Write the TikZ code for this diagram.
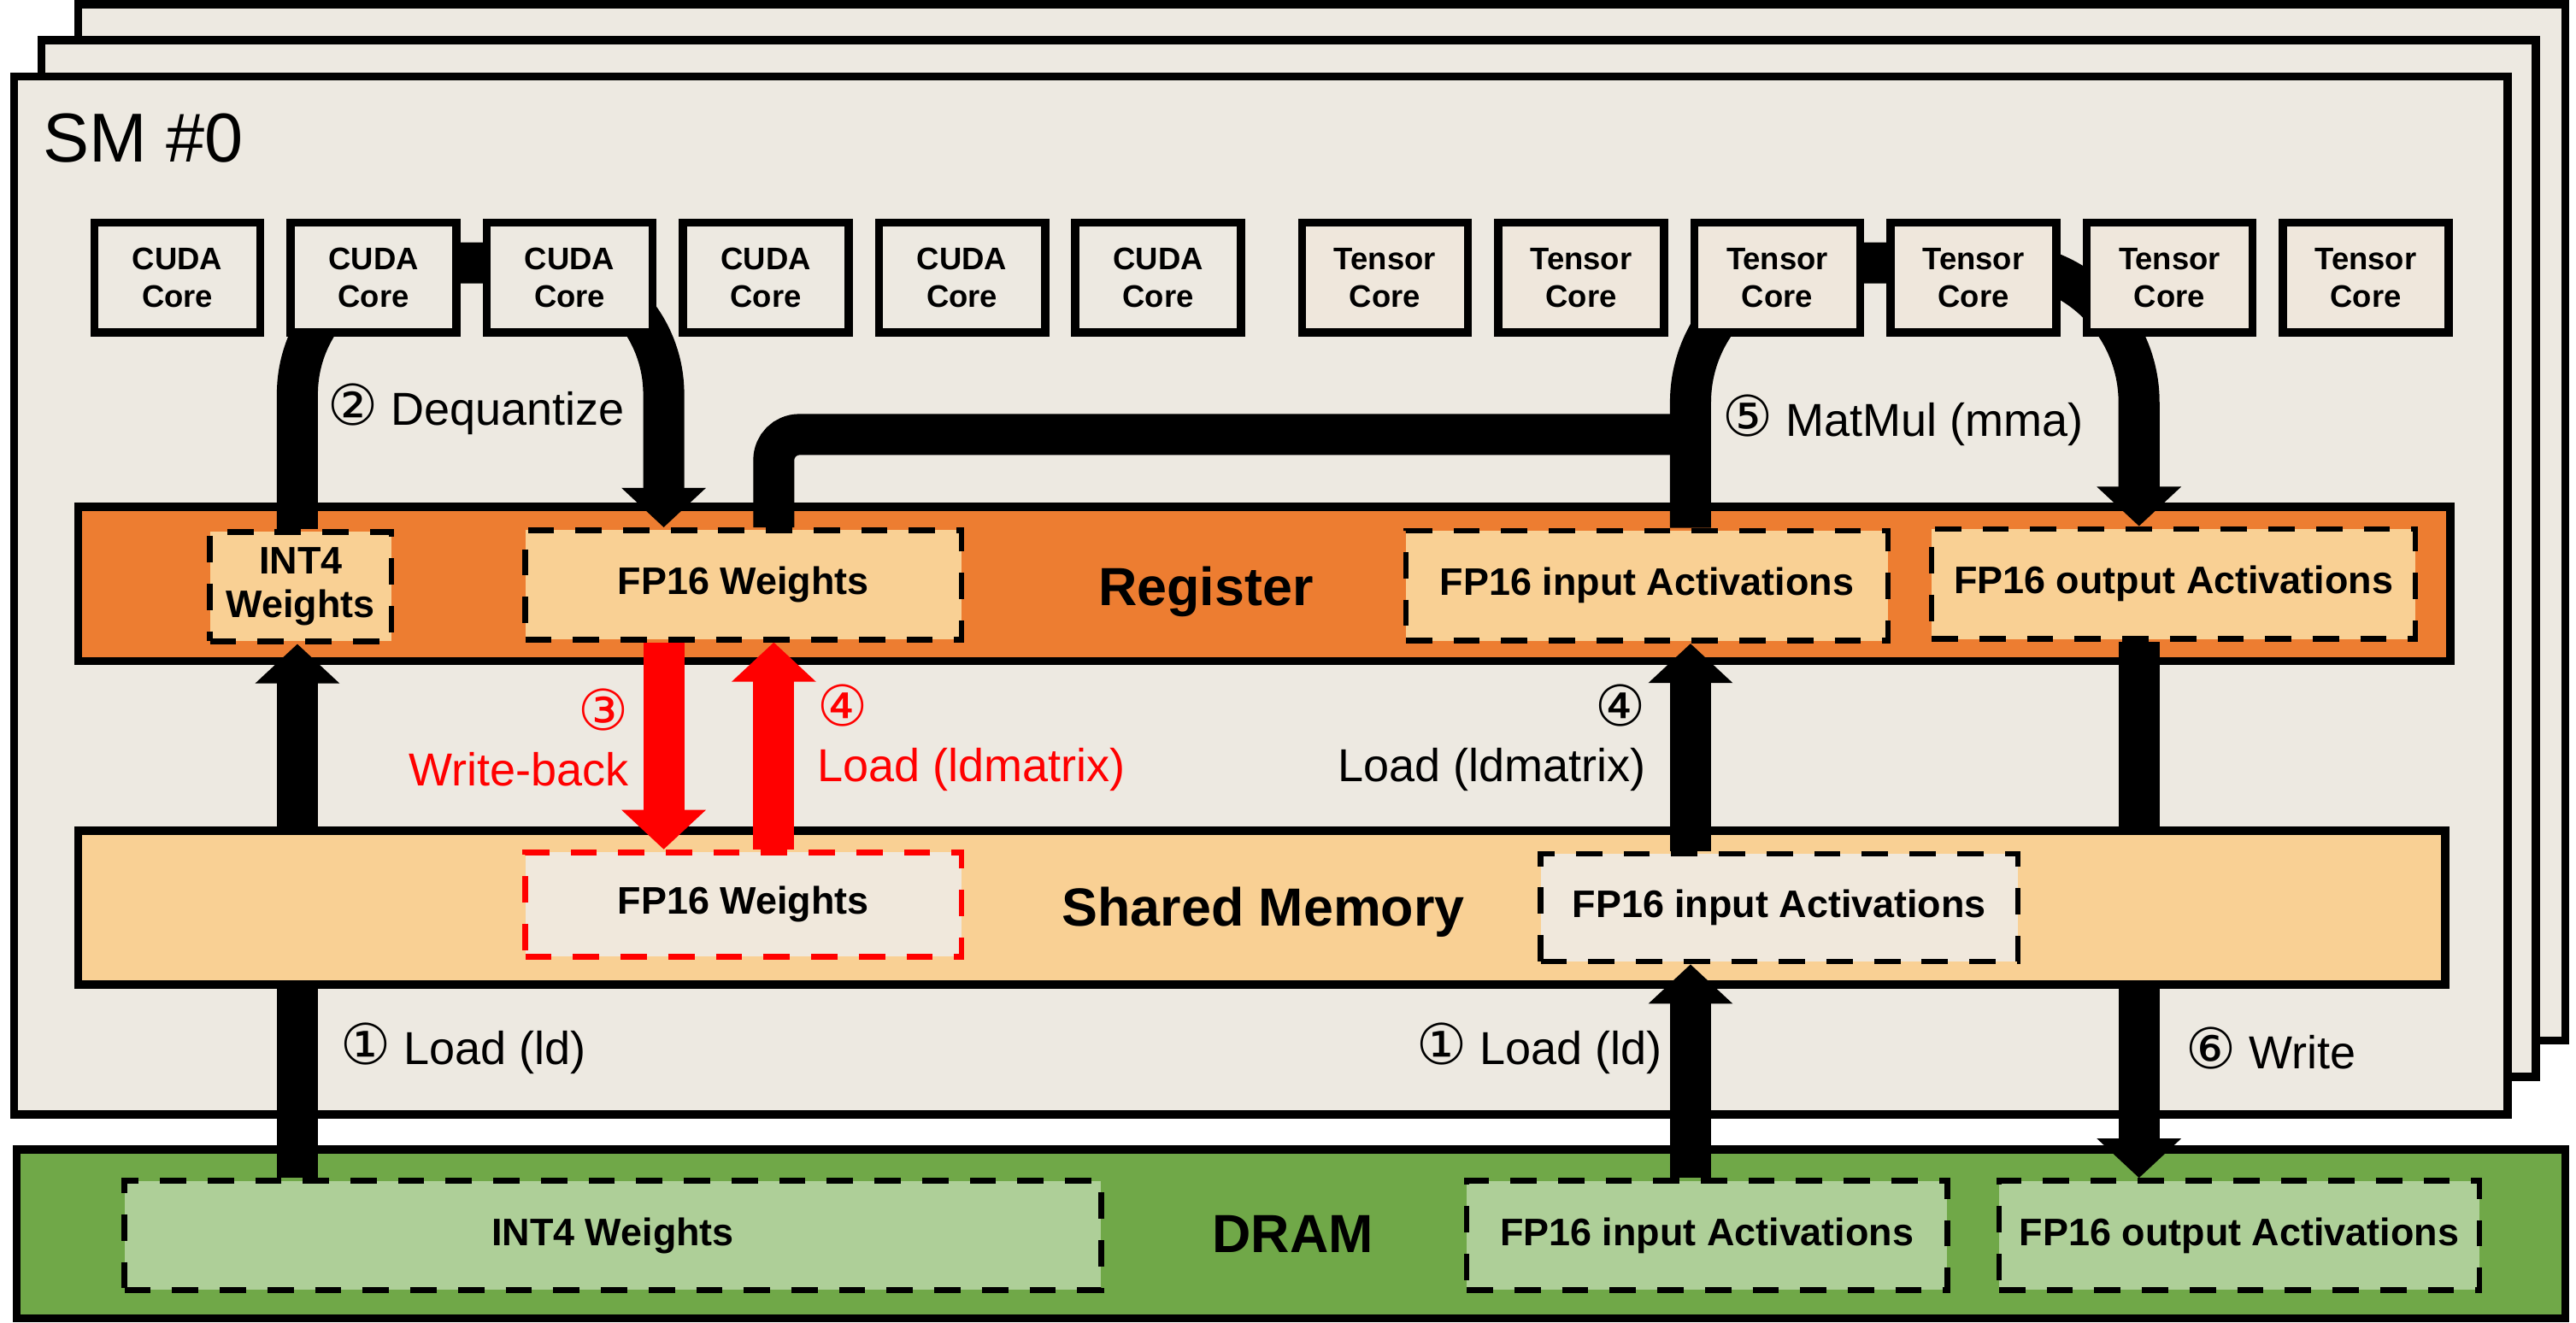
\documentclass[tikz,border=0pt]{standalone}
\usepackage{fontspec}
\setmainfont{Liberation Sans}
\newfontfamily\circfont{DejaVu Sans}
\usepackage{xcolor}
\usepackage{tikz}
\usetikzlibrary{positioning}
\usetikzlibrary{arrows.meta}
\usetikzlibrary{calc}

\definecolor{smbg}{RGB}{237,233,225}
\definecolor{tcbg}{RGB}{239,231,220}
\definecolor{regorange}{RGB}{237,125,49}
\definecolor{peach}{RGB}{249,208,148}
\definecolor{shslot}{RGB}{240,232,220}
\definecolor{dramgreen}{RGB}{112,168,72}
\definecolor{dramslot}{RGB}{174,207,152}

\newcommand{\circnum}[1]{{\circfont\fontsize{19.5}{19.2}\selectfont #1}}

\tikzset{
  smframe/.style={draw, line width=0.1cm, fill=smbg},
  corebox/.style={draw, line width=0.1cm, fill=smbg, minimum width=2.02cm, minimum height=1.34cm, inner sep=0pt, align=center, font=\fontsize{10.8}{13}\selectfont\bfseries},
  tensorbox/.style={corebox, fill=tcbg},
  slot/.style={draw, line width=0.07cm, dash pattern=on 0.32cm off 0.26cm, align=center, inner sep=0pt, font=\fontsize{13.3}{15.2}\selectfont\bfseries},
  memname/.style={inner sep=0pt, font=\fontsize{18.6}{22}\selectfont\bfseries},
  bigarrow/.style={line width=0.5cm, -{Triangle[width=1cm,length=0.48cm]}},
  steptext/.style={inner sep=0pt, font=\fontsize{16}{19.2}\selectfont, align=left},
}

\begin{document}
\begin{tikzpicture}[x=0.02cm, y=-0.02cm]
    \useasboundingbox (0,0) rectangle (1568,805);

    % stacked SM frames
    \draw[smframe] (47.6,2.6) rectangle (1561.4,633.4);
    \draw[smframe] (25.2,24.6) rectangle (1543.4,655.4);
    \draw[smframe] (8.6,46.6) rectangle (1526.4,678.4);
    \node[anchor=west, inner sep=0pt, font=\fontsize{24}{28}\selectfont] (smName) at (26,84) {SM \#0};

    % lanes for the thick connectors
    \coordinate (laneW) at (181,0);
    \coordinate (laneDq) at (404,0);
    \coordinate (laneLd) at (471,0);
    \coordinate (laneAct) at (1029,0);
    \coordinate (laneOut) at (1302,0);
    \coordinate (busY) at (0,160);
    \coordinate (mmY) at (0,264.5);

    % Register
    \draw[line width=0.1cm, fill=regorange] (47.6,308.6) rectangle (1491.4,402.4);
    \node[slot, fill=peach, minimum width=2.21cm, minimum height=1.33cm] (regInt4) at (183,357) {INT4\\Weights};
    \node[slot, fill=peach, minimum width=5.31cm, minimum height=1.33cm] (regFpW) at (452.5,356) {FP16 Weights};
    \node[slot, fill=peach, minimum width=5.87cm, minimum height=1.34cm] (regInAct) at (1002.5,356.5) {FP16 input Activations};
    \node[slot, fill=peach, minimum width=5.89cm, minimum height=1.34cm] (regOutAct) at (1323,355.5) {FP16 output Activations};
    \node[memname] (regName) at (734,360) {Register};

    % DRAM
    \draw[line width=0.1cm, fill=dramgreen] (10.1,699.6) rectangle (1561.4,802.4);
    \node[slot, fill=dramslot, minimum width=11.89cm, minimum height=1.33cm] (drInt4) at (373,752) {INT4 Weights};
    \node[slot, fill=dramslot, minimum width=5.85cm, minimum height=1.33cm] (drInAct) at (1039,752) {FP16 input Activations};
    \node[slot, fill=dramslot, minimum width=5.85cm, minimum height=1.33cm] (drOutAct) at (1363,752) {FP16 output Activations};
    \node[memname] (dramName) at (787,751) {DRAM};

    % paths running behind shared memory
    \draw[bigarrow] (drInt4.north -| laneW) -- (regInt4.south -| laneW);
    \draw[bigarrow] (regOutAct.south -| laneOut) -- (drOutAct.north -| laneOut);

    % dequantize and mma paths (behind the cores)
    \draw[bigarrow, rounded corners=1.6cm] (regInt4.north -| laneW) |- (busY -| laneDq) -- (regFpW.north -| laneDq);
    \draw[bigarrow, rounded corners=1.7cm] (regInAct.north -| laneAct) |- (busY -| laneOut) -- (regOutAct.north -| laneOut);
    \draw[line width=0.5cm, rounded corners=0.31cm] (regFpW.north -| laneLd) |- (mmY -| laneAct);

    % cores
    \foreach \i in {1,...,6}
        \node[corebox] (cuda\i) at ({108+119.4*(\i-1)},169) {CUDA\\Core};
    \foreach \i in {1,...,6}
        \node[tensorbox] (tc\i) at ({843+119.4*(\i-1)},169) {Tensor\\Core};

    % Shared Memory
    \draw[line width=0.1cm, fill=peach] (47.6,505.6) rectangle (1488.4,599.4);
    \node[slot, draw=red, fill=shslot, minimum width=5.31cm, minimum height=1.27cm] (shFpW) at (452.5,550.5) {FP16 Weights};
    \node[slot, fill=shslot, minimum width=5.81cm, minimum height=1.31cm] (shInAct) at (1083,552.5) {FP16 input Activations};
    \node[memname] (shName) at (769,555) {Shared Memory};

    % paths over shared memory
    \draw[bigarrow] (drInAct.north -| laneAct) -- (shInAct.south -| laneAct);
    \draw[bigarrow] (shInAct.north -| laneAct) -- (regInAct.south -| laneAct);
    \draw[bigarrow, red] (regFpW.south -| laneDq) -- (shFpW.north -| laneDq);
    \draw[bigarrow, red] (shFpW.north -| laneLd) -- (regFpW.south -| laneLd);

    % step labels
    \node[steptext, anchor=west] (lblDq) at (199,249) {\circnum{②} Dequantize};
    \node[steptext, anchor=west] (lblMm) at (1048,256) {\circnum{⑤} MatMul (mma)};
    \node[steptext, red, anchor=east, align=right] (lblWb) at (383,449) {\circnum{③}\\Write-back};
    \node[steptext, red, anchor=west] (lblLdW) at (497,449) {\circnum{④}\\Load (ldmatrix)};
    \node[steptext, anchor=east, align=right] (lblLdA) at (1002,449) {\circnum{④}\\Load (ldmatrix)};
    \node[steptext, anchor=west] (lblLd1) at (207,638) {\circnum{①} Load (ld)};
    \node[steptext, anchor=west] (lblLd2) at (862,638) {\circnum{①} Load (ld)};
    \node[steptext, anchor=west] (lblWr) at (1330,638) {\circnum{⑥} Write};
\end{tikzpicture}
\end{document}
